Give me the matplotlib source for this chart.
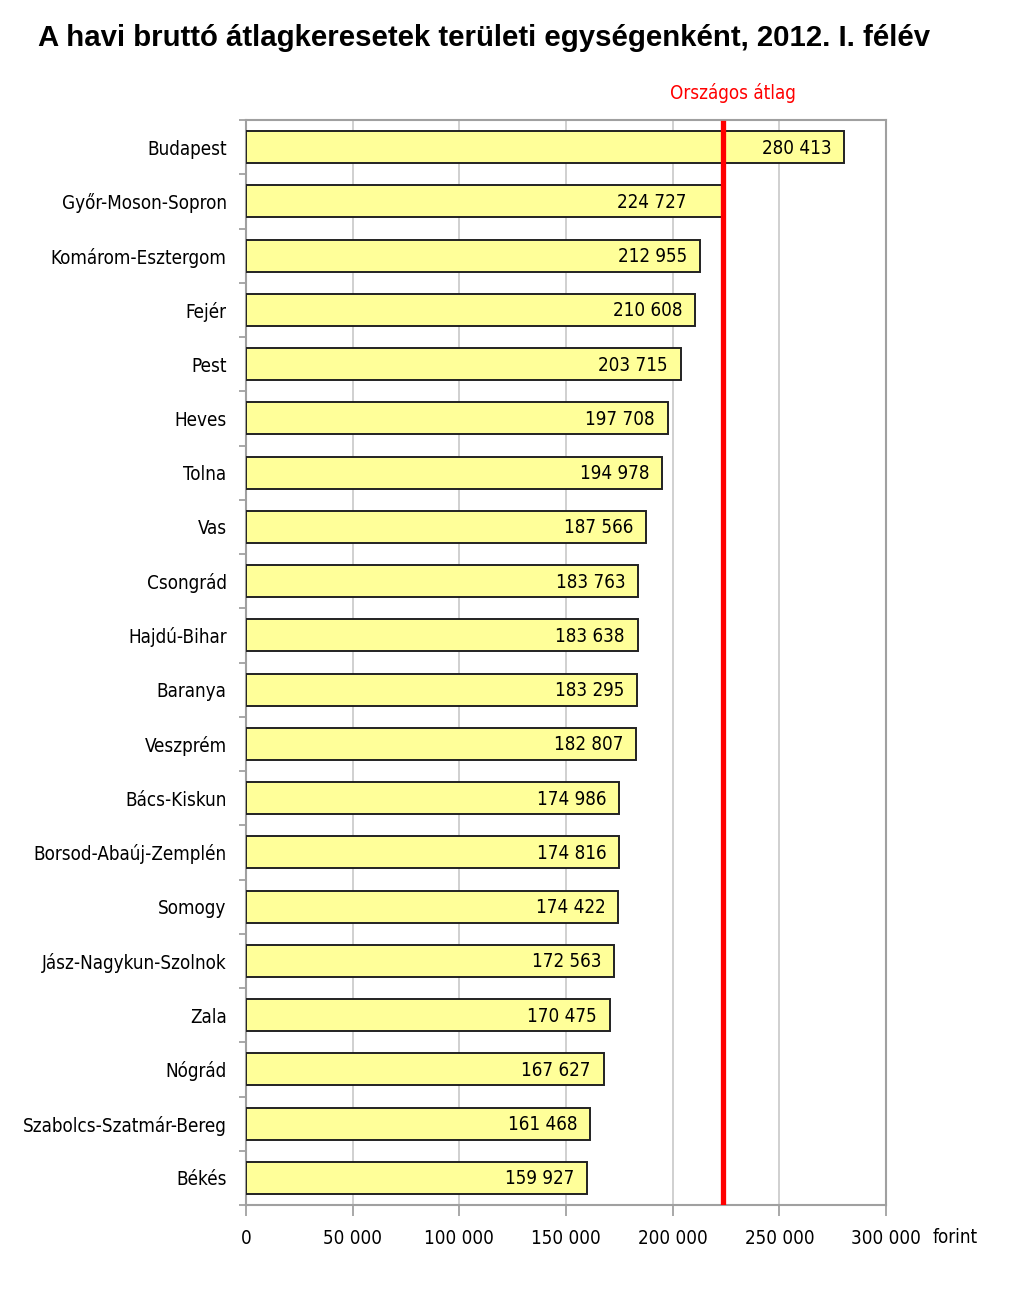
import matplotlib
matplotlib.use("Agg")
import matplotlib.pyplot as plt
from matplotlib import font_manager

regions = ["Budapest", "Győr-Moson-Sopron", "Komárom-Esztergom", "Fejér", "Pest",
           "Heves", "Tolna", "Vas", "Csongrád", "Hajdú-Bihar", "Baranya",
           "Veszprém", "Bács-Kiskun", "Borsod-Abaúj-Zemplén", "Somogy",
           "Jász-Nagykun-Szolnok", "Zala", "Nógrád", "Szabolcs-Szatmár-Bereg",
           "Békés"]
earnings = [280413, 224727, 212955, 210608, 203715, 197708, 194978, 187566,
            183763, 183638, 183295, 182807, 174986, 174816, 174422, 172563,
            170475, 167627, 161468, 159927]
national_avg = 223400
x_ticks = [0, 50000, 100000, 150000, 200000, 250000, 300000]


def fmt(v):
    return f"{v:,}".replace(",", " ")


# condensed face for the labels, like Arial Narrow in the original
plt.rcParams['font.family'] = ["DejaVu Sans"]
plt.rcParams['font.stretch'] = "condensed"
cond = font_manager.FontProperties(family="DejaVu Sans", stretch="condensed", size=13.5)

fig = plt.figure(figsize=(10.18, 12.94), dpi=100)
ax = fig.add_axes([246 / 1018, 1 - 1205 / 1294, 640 / 1018, 1085 / 1294])

pos = list(range(len(regions)))
ax.barh(pos, earnings, height=0.59, color="#FFFF99", edgecolor="#222222",
        linewidth=1.4, zorder=3)
for p, v in zip(pos, earnings):
    x = v - 6000
    # keep the label clear of the average line
    if national_avg - 3000 < v < national_avg + 20000:
        x = national_avg - 17000
    ax.text(x, p + 0.02, fmt(v), ha="right", va="center", fontproperties=cond, zorder=5)

ax.axvline(national_avg, ymin=0.002, ymax=0.997, color="#FF0000", linewidth=3.8, zorder=4)
ax.text(national_avg + 5000, -1.0, "Országos átlag", color="#FF0000",
        fontproperties=cond, ha="center", va="center")

ax.set_xlim(0, 300000)
ax.set_ylim(len(regions) - 0.5, -0.5)
ax.set_xticks(x_ticks)
ax.set_xticklabels([fmt(t) for t in x_ticks], fontproperties=cond)
ax.set_yticks(pos)
ax.set_yticklabels(regions, fontproperties=cond)
ax.tick_params(axis="y", length=0, pad=14)
ax.set_yticks([p + 0.5 for p in range(-1, len(regions))], minor=True)
ax.tick_params(axis="y", which="minor", length=5, color="#999999", width=1.2)
ax.tick_params(axis="x", length=8, color="#999999", width=1.2, pad=9)
ax.grid(axis="x", color="#C8C8C8", linewidth=1.2, zorder=0)
for s in ax.spines.values():
    s.set_color("#A0A0A0")
    s.set_linewidth(1.5)

ax.text(1.108, -0.030, "forint", transform=ax.transAxes, fontproperties=cond,
        ha="center", va="center")
fig.text(38 / 1018, 1 - 38 / 1294, "A havi bruttó átlagkeresetek területi egységenként, 2012. I. félév",
         fontsize=21.2, fontweight="bold", family="Liberation Sans", stretch="normal",
         ha="left", va="center")

fig.savefig("out.png", dpi=100)
